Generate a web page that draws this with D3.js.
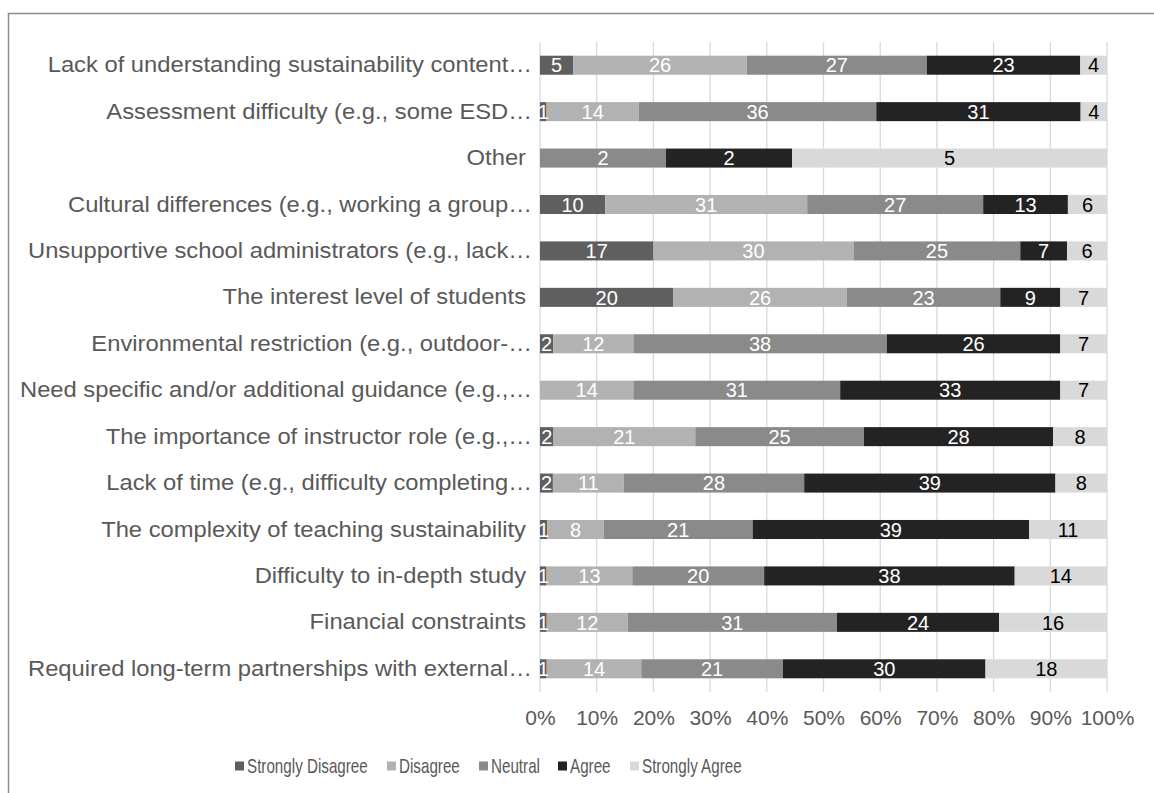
<!DOCTYPE html>
<html>
<head>
<meta charset="utf-8">
<script src="https://cdn.jsdelivr.net/npm/d3@7/dist/d3.min.js"></script>
<style>
  html, body { margin: 0; padding: 0; background: #fff; }
  svg { display: block; }
  text { font-family: "Liberation Sans", Arial, sans-serif; }
</style>
</head>
<body>
<svg id="chart" width="1154" height="793"></svg>
<script>
const categories = [
  "Lack of understanding sustainability content…",
  "Assessment difficulty (e.g., some ESD…",
  "Other",
  "Cultural differences (e.g., working a group…",
  "Unsupportive school administrators (e.g., lack…",
  "The interest level of students",
  "Environmental restriction (e.g., outdoor-…",
  "Need specific and/or additional guidance (e.g.,…",
  "The importance of instructor role (e.g.,…",
  "Lack of time (e.g., difficulty completing…",
  "The complexity of teaching sustainability",
  "Difficulty to in-depth study",
  "Financial constraints",
  "Required long-term partnerships with external…"
];
const seriesNames = ["Strongly Disagree", "Disagree", "Neutral", "Agree", "Strongly Agree"];
const stronglyDisagree = [5, 1, 0, 10, 17, 20, 2, 0, 2, 2, 1, 1, 1, 1];
const disagree         = [26, 14, 0, 31, 30, 26, 12, 14, 21, 11, 8, 13, 12, 14];
const neutral          = [27, 36, 2, 27, 25, 23, 38, 31, 25, 28, 21, 20, 31, 21];
const agree            = [23, 31, 2, 13, 7, 9, 26, 33, 28, 39, 39, 38, 24, 30];
const stronglyAgree    = [4, 4, 5, 6, 6, 7, 7, 7, 8, 8, 11, 14, 16, 18];
const tickLabels = ["0%", "10%", "20%", "30%", "40%", "50%", "60%", "70%", "80%", "90%", "100%"];

const seriesColors = ["#5f5f5f", "#b2b2b2", "#8a8a8a", "#232323", "#d9d9d9"];
const labelColors  = ["#ffffff", "#ffffff", "#ffffff", "#ffffff", "#000000"];

const allSeries = [stronglyDisagree, disagree, neutral, agree, stronglyAgree];
const rows = categories.map((c, i) => {
  const o = { cat: c };
  seriesNames.forEach((s, j) => o[s] = allSeries[j][i]);
  return o;
});

const svg = d3.select("#chart");
const W = 1154, H = 793;
const margin = { left: 540, right: 47, top: 42, bottom: 101 };
const x = d3.scaleLinear().domain([0, 1]).range([margin.left, W - margin.right]);
const y = d3.scaleBand().domain(categories).range([margin.top, H - margin.bottom]).paddingInner(0.59).paddingOuter(0.295);

// outer frame
svg.append("path")
  .attr("d", `M8.5,${H} L8.5,13.5 L${W},13.5`)
  .attr("fill", "none").attr("stroke", "#8c8c8c").attr("stroke-width", 1.5);

// gridlines
const ticks = d3.range(0, 11).map(d => d / 10);
svg.append("g").selectAll("line").data(ticks).join("line")
  .attr("x1", d => x(d)).attr("x2", d => x(d))
  .attr("y1", margin.top).attr("y2", H - margin.bottom)
  .attr("stroke", "#d9d9d9").attr("stroke-width", 1.3);

// x axis labels
const xAxis = d3.axisBottom(x).tickValues(ticks).tickFormat((d, i) => tickLabels[i]).tickSize(0).tickPadding(0);
const gx = svg.append("g").attr("transform", `translate(0,${H - margin.bottom + 26})`).call(xAxis);
gx.select(".domain").remove();
gx.selectAll("text").attr("fill", "#595959").attr("font-size", "21px").attr("dy", "0.35em").attr("y", 0);

// y axis labels
const yAxis = d3.axisLeft(y).tickSize(0).tickPadding(0);
const gy = svg.append("g").attr("transform", `translate(${margin.left},0)`).call(yAxis);
gy.select(".domain").remove();
gy.selectAll("text")
  .attr("fill", "#595959").attr("font-size", "22px").attr("x", 0)
  .attr("transform", d => `translate(${d.endsWith("…") ? -8 : -14},0) scale(1.08,1)`);

// stacks with percent normalisation
const stack = d3.stack().keys(seriesNames).offset(d3.stackOffsetExpand);
const stacked = stack(rows);

const layers = svg.append("g").selectAll("g").data(stacked).join("g")
  .attr("fill", (d, i) => seriesColors[i]);

layers.selectAll("rect").data(d => d.map(p => ({ p, key: d.key }))).join("rect")
  .attr("x", d => x(d.p[0]))
  .attr("width", d => Math.max(0, x(d.p[1]) - x(d.p[0])))
  .attr("y", d => y(d.p.data.cat))
  .attr("height", y.bandwidth());

// data labels
const lbl = svg.append("g");
stacked.forEach((layer, i) => {
  layer.forEach(p => {
    const v = p.data[layer.key];
    if (!v) return;
    lbl.append("text")
      .attr("x", (x(p[0]) + x(p[1])) / 2)
      .attr("y", y(p.data.cat) + y.bandwidth() / 2)
      .attr("dy", "0.36em")
      .attr("text-anchor", "middle")
      .attr("font-size", "20px")
      .attr("fill", labelColors[i])
      .text(v);
  });
});

// legend
const legend = svg.append("g").attr("transform", `translate(0,766)`);
const legendX = [235, 387, 479, 558, 630];
seriesNames.forEach((s, i) => {
  const g = legend.append("g").attr("transform", `translate(${legendX[i]},0)`);
  g.append("rect").attr("x", 0).attr("y", -4.5).attr("width", 9).attr("height", 9).attr("fill", seriesColors[i]);
  g.append("text").attr("x", 0).attr("dy", "0.36em").attr("font-size", "20px").attr("fill", "#595959")
    .attr("transform", "translate(12,0) scale(0.76,1)").text(s);
});
</script>
</body>
</html>
